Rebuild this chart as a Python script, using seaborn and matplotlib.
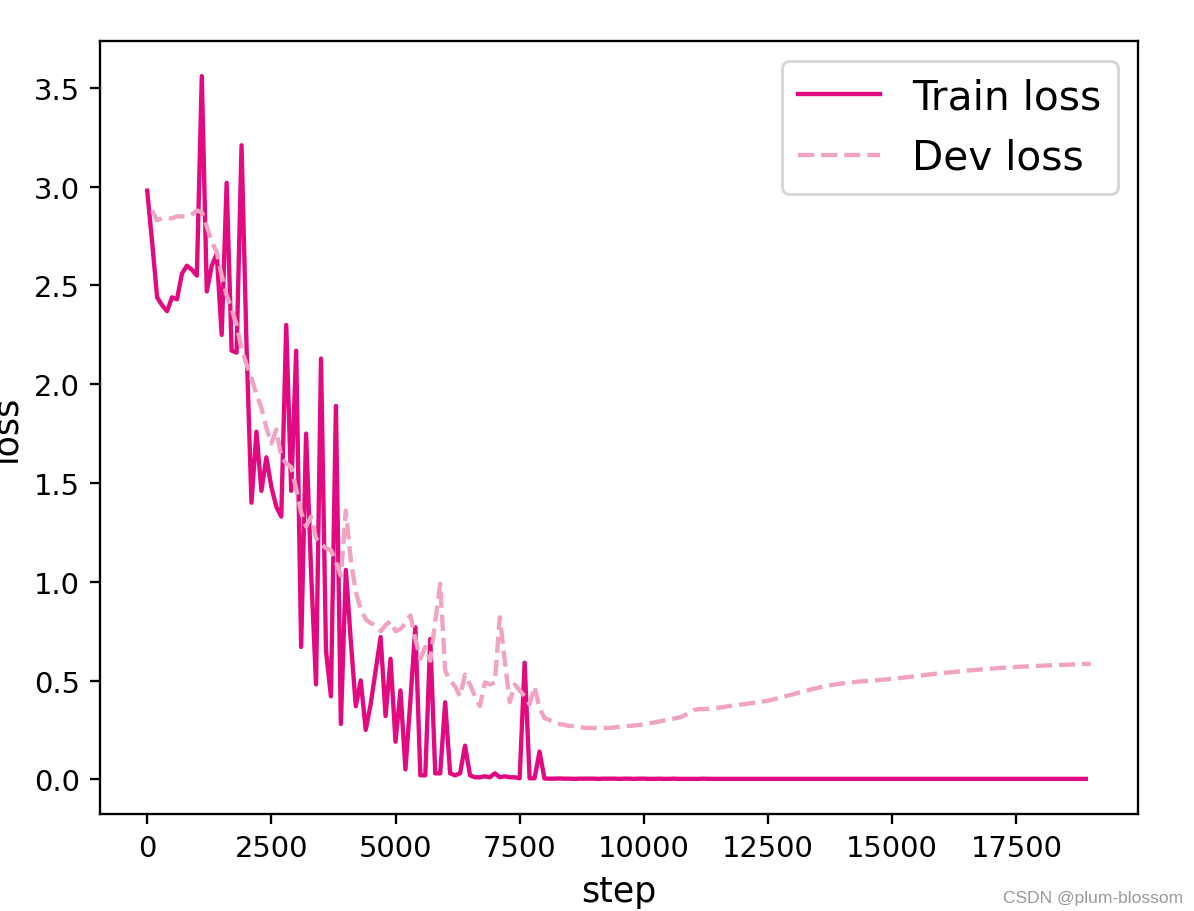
import numpy as np
import matplotlib
matplotlib.use("Agg")
from matplotlib import pyplot as plt
import seaborn as sns

# train loss logged every 100 steps starting at step 0
train_loss = [
    2.98, 2.72, 2.44, 2.40, 2.37, 2.44, 2.43, 2.56, 2.60, 2.58,
    2.55, 3.56, 2.47, 2.60, 2.66, 2.25, 3.02, 2.17, 2.16, 3.21,
    2.20, 1.40, 1.76, 1.46, 1.63, 1.48, 1.38, 1.33, 2.30, 1.46,
    2.17, 0.67, 1.75, 1.05, 0.48, 2.13, 0.65, 0.42, 1.89, 0.28,
    1.06, 0.70, 0.37, 0.50, 0.25, 0.38, 0.55, 0.72, 0.32, 0.61,
    0.19, 0.45, 0.05, 0.40, 0.77, 0.02, 0.02, 0.71, 0.03, 0.03,
    0.39, 0.03, 0.02, 0.03, 0.17, 0.02, 0.01, 0.01, 0.015, 0.01,
    0.03, 0.01, 0.015, 0.01, 0.01, 0.005, 0.59, 0.005, 0.005, 0.14,
    0.004, 0.003, 0.003, 0.004, 0.003, 0.003, 0.002, 0.003, 0.003, 0.003,
    0.003, 0.002, 0.003, 0.003, 0.003, 0.002, 0.003, 0.003, 0.002, 0.003,
    0.003, 0.002, 0.002, 0.003, 0.002, 0.002, 0.003, 0.002, 0.002, 0.002,
    0.002, 0.002, 0.003, 0.002, 0.002, 0.002, 0.002, 0.002, 0.002, 0.002,
    0.002, 0.002, 0.002, 0.002, 0.002, 0.002, 0.002, 0.002, 0.002, 0.002,
    0.002, 0.002, 0.002, 0.002, 0.002, 0.002, 0.002, 0.002, 0.002, 0.002,
    0.002, 0.002, 0.002, 0.002, 0.002, 0.002, 0.002, 0.002, 0.002, 0.002,
    0.002, 0.002, 0.002, 0.002, 0.002, 0.002, 0.002, 0.002, 0.002, 0.002,
    0.002, 0.002, 0.002, 0.002, 0.002, 0.002, 0.002, 0.002, 0.002, 0.002,
    0.002, 0.002, 0.002, 0.002, 0.002, 0.002, 0.002, 0.002, 0.002, 0.002,
    0.002, 0.002, 0.002, 0.002, 0.002, 0.002, 0.002, 0.002, 0.002, 0.002,
]

# dev loss evaluated every 100 steps starting at step 100
dev_loss = [
    2.88, 2.83, 2.84, 2.84, 2.84, 2.85, 2.85, 2.85, 2.86, 2.88,
    2.87, 2.80, 2.72, 2.67, 2.55, 2.45, 2.38, 2.30, 2.18, 2.10,
    2.03, 1.95, 1.88, 1.78, 1.70, 1.77, 1.63, 1.60, 1.58, 1.47,
    1.35, 1.28, 1.33, 1.22, 1.19, 1.17, 1.16, 1.10, 1.03, 1.36,
    1.11, 0.95, 0.86, 0.81, 0.79, 0.78, 0.75, 0.78, 0.80, 0.75,
    0.76, 0.79, 0.83, 0.71, 0.61, 0.67, 0.60, 0.80, 0.99, 0.55,
    0.50, 0.47, 0.42, 0.53, 0.48, 0.42, 0.37, 0.49, 0.48, 0.49,
    0.82, 0.60, 0.39, 0.48, 0.45, 0.42, 0.38, 0.47, 0.36, 0.31,
    0.30, 0.29, 0.28, 0.275, 0.27, 0.27, 0.265, 0.26, 0.26, 0.26,
    0.26, 0.26, 0.26, 0.262, 0.265, 0.268, 0.27, 0.272, 0.275, 0.278,
    0.282, 0.287, 0.292, 0.297, 0.302, 0.307, 0.312, 0.32, 0.335, 0.35,
    0.355, 0.355, 0.357, 0.36, 0.362, 0.365, 0.37, 0.373, 0.376, 0.38,
    0.383, 0.387, 0.39, 0.394, 0.398, 0.404, 0.41, 0.417, 0.424, 0.43,
    0.437, 0.444, 0.45, 0.457, 0.463, 0.469, 0.474, 0.478, 0.482, 0.485,
    0.488, 0.491, 0.494, 0.496, 0.498, 0.50, 0.502, 0.504, 0.506, 0.508,
    0.511, 0.514, 0.517, 0.52, 0.523, 0.526, 0.529, 0.532, 0.535, 0.537,
    0.54, 0.542, 0.545, 0.547, 0.55, 0.552, 0.554, 0.556, 0.558, 0.56,
    0.562, 0.564, 0.566, 0.567, 0.569, 0.57, 0.571, 0.572, 0.573, 0.575,
    0.576, 0.577, 0.578, 0.579, 0.58, 0.581, 0.582, 0.583, 0.584, 0.585,
]

train_steps = np.arange(len(train_loss)) * 100
dev_steps = (np.arange(len(dev_loss)) + 1) * 100

train_color = '#e20a80'
dev_color = '#f0a3c3'

dpi = 209
fig = plt.figure(figsize=(1194 / dpi, 912 / dpi), dpi=dpi)
ax = fig.add_axes([100 / 1194, 97 / 912, 1038 / 1194, 773 / 912])

sns.lineplot(x=train_steps, y=train_loss, ax=ax, color=train_color,
             linewidth=1.5, label='Train loss')
sns.lineplot(x=dev_steps, y=dev_loss, ax=ax, color=dev_color,
             linewidth=1.5, linestyle='--', label='Dev loss')

ax.set_xlabel('step', fontsize=12)
ax.set_ylabel('loss', fontsize=12)
ax.legend(loc='upper right', fontsize=14)

# watermark, as in the source screenshot
fig.text(0.991, 0.0099, 'CSDN @plum-blossom', ha='right', va='baseline',
         fontsize=6, color='#999999', family=['Liberation Sans', 'DejaVu Sans'])

fig.savefig('out.png', dpi=dpi)
